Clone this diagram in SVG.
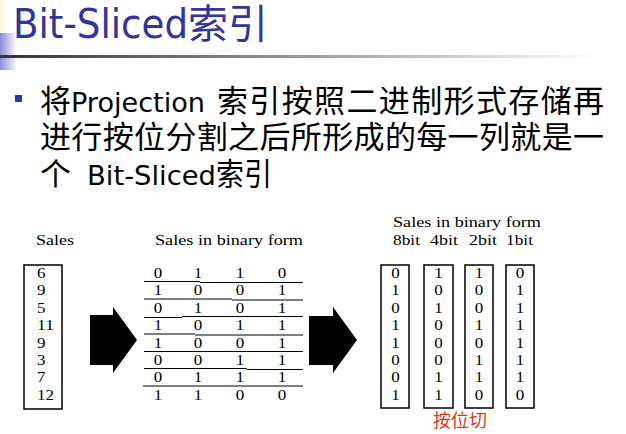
<svg xmlns="http://www.w3.org/2000/svg" width="626" height="434" viewBox="0 0 626 434">
<defs>
<linearGradient id="rule" x1="0" y1="0" x2="1" y2="0"><stop offset="0" stop-color="#333"/><stop offset="1" stop-color="#fff"/></linearGradient>
<linearGradient id="blue" x1="0" y1="0" x2="1" y2="0"><stop offset="0" stop-color="#8a8ad8"/><stop offset="1" stop-color="#fff"/></linearGradient>
<linearGradient id="cream" x1="0" y1="0" x2="1" y2="0"><stop offset="0" stop-color="#fbf4cc"/><stop offset="1" stop-color="#fff"/></linearGradient>
</defs>
<style>
.title{font-family:"DejaVu Sans","Liberation Sans",sans-serif;font-size:40px;fill:#333399}
.titlecjk{font-family:"Noto Sans CJK SC",sans-serif;font-size:40px;fill:#333399}
.lat{font-family:"DejaVu Sans","Liberation Sans",sans-serif;font-size:27px;fill:#000}
.cjk{font-family:"Noto Sans CJK SC",sans-serif;font-size:31px;fill:#000}
.t{font-family:"Liberation Serif","Times New Roman",serif;font-size:14px;fill:#000}
.d{font-family:"Liberation Serif","Times New Roman",serif;font-size:14px;fill:#000;text-anchor:middle}
.n{font-family:"Liberation Serif","Times New Roman",serif;font-size:14px;fill:#000}
.box{fill:none;stroke:#000;stroke-width:1.5}
.ul{stroke:#000;stroke-width:1.2;fill:none}
.arrow{fill:#000}
.red{font-family:"Noto Sans CJK SC",sans-serif;font-size:18px;fill:#ee3311}
</style>
<rect width="626" height="434" fill="#fff"/>
<g id="decor">
<rect x="0" y="0" width="6" height="33" fill="url(#cream)"/>
<rect x="0" y="33" width="17" height="37" fill="url(#blue)"/>
<rect x="0" y="55" width="600" height="3" fill="url(#rule)"/>
</g>
<g id="title">
<text class="title" x="13" y="38" textLength="175" lengthAdjust="spacingAndGlyphs">Bit-Sliced</text>
<text class="titlecjk" x="188" y="38">索引</text>
</g>
<g id="bullet-text">
<rect x="15" y="95" width="7" height="7" fill="#3333aa"/>
<text class="cjk" x="40" y="112">将</text>
<text class="lat" x="71" y="112" textLength="134" lengthAdjust="spacingAndGlyphs">Projection</text>
<text class="cjk" x="217" y="112" textLength="387" lengthAdjust="spacing">索引按照二进制形式存储再</text>
<text class="cjk" x="40" y="148" textLength="564" lengthAdjust="spacing">进行按位分割之后所形成的每一列就是一</text>
<text class="cjk" x="40" y="185">个</text>
<text class="lat" x="87" y="185" textLength="129" lengthAdjust="spacingAndGlyphs">Bit-Sliced</text>
<text class="cjk" x="216" y="185" textLength="56" lengthAdjust="spacingAndGlyphs">索引</text>
</g>
<g id="sales">
<text class="t" x="36" y="245" textLength="38" lengthAdjust="spacingAndGlyphs">Sales</text>
<rect class="box" x="24" y="265" width="38" height="144"/>
<text class="n" x="37" y="278" textLength="8.5" lengthAdjust="spacingAndGlyphs">6</text>
<text class="n" x="37" y="295.4" textLength="8.5" lengthAdjust="spacingAndGlyphs">9</text>
<text class="n" x="37" y="312.8" textLength="8.5" lengthAdjust="spacingAndGlyphs">5</text>
<text class="n" x="37" y="330.2" textLength="17" lengthAdjust="spacingAndGlyphs">11</text>
<text class="n" x="37" y="347.6" textLength="8.5" lengthAdjust="spacingAndGlyphs">9</text>
<text class="n" x="37" y="365" textLength="8.5" lengthAdjust="spacingAndGlyphs">3</text>
<text class="n" x="37" y="382.4" textLength="8.5" lengthAdjust="spacingAndGlyphs">7</text>
<text class="n" x="37" y="399.8" textLength="17" lengthAdjust="spacingAndGlyphs">12</text>
</g>
<g id="binary">
<text class="t" x="155" y="244.5" textLength="148" lengthAdjust="spacingAndGlyphs">Sales in binary form</text>
<g>
<text class="d" x="158" y="278" textLength="8.5" lengthAdjust="spacingAndGlyphs">0</text><text class="d" x="198" y="278" textLength="8.5" lengthAdjust="spacingAndGlyphs">1</text><text class="d" x="240" y="278" textLength="8.5" lengthAdjust="spacingAndGlyphs">1</text><text class="d" x="282" y="278" textLength="8.5" lengthAdjust="spacingAndGlyphs">0</text>
<text class="d" x="158" y="295.4" textLength="8.5" lengthAdjust="spacingAndGlyphs">1</text><text class="d" x="198" y="295.4" textLength="8.5" lengthAdjust="spacingAndGlyphs">0</text><text class="d" x="240" y="295.4" textLength="8.5" lengthAdjust="spacingAndGlyphs">0</text><text class="d" x="282" y="295.4" textLength="8.5" lengthAdjust="spacingAndGlyphs">1</text>
<text class="d" x="158" y="312.8" textLength="8.5" lengthAdjust="spacingAndGlyphs">0</text><text class="d" x="198" y="312.8" textLength="8.5" lengthAdjust="spacingAndGlyphs">1</text><text class="d" x="240" y="312.8" textLength="8.5" lengthAdjust="spacingAndGlyphs">0</text><text class="d" x="282" y="312.8" textLength="8.5" lengthAdjust="spacingAndGlyphs">1</text>
<text class="d" x="158" y="330.2" textLength="8.5" lengthAdjust="spacingAndGlyphs">1</text><text class="d" x="198" y="330.2" textLength="8.5" lengthAdjust="spacingAndGlyphs">0</text><text class="d" x="240" y="330.2" textLength="8.5" lengthAdjust="spacingAndGlyphs">1</text><text class="d" x="282" y="330.2" textLength="8.5" lengthAdjust="spacingAndGlyphs">1</text>
<text class="d" x="158" y="347.6" textLength="8.5" lengthAdjust="spacingAndGlyphs">1</text><text class="d" x="198" y="347.6" textLength="8.5" lengthAdjust="spacingAndGlyphs">0</text><text class="d" x="240" y="347.6" textLength="8.5" lengthAdjust="spacingAndGlyphs">0</text><text class="d" x="282" y="347.6" textLength="8.5" lengthAdjust="spacingAndGlyphs">1</text>
<text class="d" x="158" y="365" textLength="8.5" lengthAdjust="spacingAndGlyphs">0</text><text class="d" x="198" y="365" textLength="8.5" lengthAdjust="spacingAndGlyphs">0</text><text class="d" x="240" y="365" textLength="8.5" lengthAdjust="spacingAndGlyphs">1</text><text class="d" x="282" y="365" textLength="8.5" lengthAdjust="spacingAndGlyphs">1</text>
<text class="d" x="158" y="382.4" textLength="8.5" lengthAdjust="spacingAndGlyphs">0</text><text class="d" x="198" y="382.4" textLength="8.5" lengthAdjust="spacingAndGlyphs">1</text><text class="d" x="240" y="382.4" textLength="8.5" lengthAdjust="spacingAndGlyphs">1</text><text class="d" x="282" y="382.4" textLength="8.5" lengthAdjust="spacingAndGlyphs">1</text>
<text class="d" x="158" y="399.8" textLength="8.5" lengthAdjust="spacingAndGlyphs">1</text><text class="d" x="198" y="399.8" textLength="8.5" lengthAdjust="spacingAndGlyphs">1</text><text class="d" x="240" y="399.8" textLength="8.5" lengthAdjust="spacingAndGlyphs">0</text><text class="d" x="282" y="399.8" textLength="8.5" lengthAdjust="spacingAndGlyphs">0</text>
</g>
<path class="ul" d="M144 281.5H200M200 282.5H303"/>
<path class="ul" d="M144 299H232M232 300H303"/>
<path class="ul" d="M144 317.5H182M182 316.5H303"/>
<path class="ul" d="M144 334H195M195 335H303"/>
<path class="ul" d="M144 351.5H303"/>
<path class="ul" d="M144 368.5H247M247 369.5H303"/>
<path class="ul" d="M143 386H303"/>
</g>
<g id="sliced">
<text class="t" x="393" y="227" textLength="148" lengthAdjust="spacingAndGlyphs">Sales in binary form</text>
<text class="t" x="393" y="245" textLength="27" lengthAdjust="spacingAndGlyphs">8bit</text>
<text class="t" x="430" y="245" textLength="28" lengthAdjust="spacingAndGlyphs">4bit</text>
<text class="t" x="469" y="245" textLength="28" lengthAdjust="spacingAndGlyphs">2bit</text>
<text class="t" x="506" y="245" textLength="27" lengthAdjust="spacingAndGlyphs">1bit</text>
<g id="col8">
<rect class="box" x="381" y="265" width="28" height="143"/>
<text class="d" x="395.5" y="278" textLength="8.5" lengthAdjust="spacingAndGlyphs">0</text>
<text class="d" x="395.5" y="295.4" textLength="8.5" lengthAdjust="spacingAndGlyphs">1</text>
<text class="d" x="395.5" y="312.8" textLength="8.5" lengthAdjust="spacingAndGlyphs">0</text>
<text class="d" x="395.5" y="330.2" textLength="8.5" lengthAdjust="spacingAndGlyphs">1</text>
<text class="d" x="395.5" y="347.6" textLength="8.5" lengthAdjust="spacingAndGlyphs">1</text>
<text class="d" x="395.5" y="365" textLength="8.5" lengthAdjust="spacingAndGlyphs">0</text>
<text class="d" x="395.5" y="382.4" textLength="8.5" lengthAdjust="spacingAndGlyphs">0</text>
<text class="d" x="395.5" y="399.8" textLength="8.5" lengthAdjust="spacingAndGlyphs">1</text>
</g>
<g id="col4">
<rect class="box" x="424" y="265" width="29" height="143"/>
<text class="d" x="438.5" y="278" textLength="8.5" lengthAdjust="spacingAndGlyphs">1</text>
<text class="d" x="438.5" y="295.4" textLength="8.5" lengthAdjust="spacingAndGlyphs">0</text>
<text class="d" x="438.5" y="312.8" textLength="8.5" lengthAdjust="spacingAndGlyphs">1</text>
<text class="d" x="438.5" y="330.2" textLength="8.5" lengthAdjust="spacingAndGlyphs">0</text>
<text class="d" x="438.5" y="347.6" textLength="8.5" lengthAdjust="spacingAndGlyphs">0</text>
<text class="d" x="438.5" y="365" textLength="8.5" lengthAdjust="spacingAndGlyphs">0</text>
<text class="d" x="438.5" y="382.4" textLength="8.5" lengthAdjust="spacingAndGlyphs">1</text>
<text class="d" x="438.5" y="399.8" textLength="8.5" lengthAdjust="spacingAndGlyphs">1</text>
</g>
<g id="col2">
<rect class="box" x="465" y="265" width="28" height="143"/>
<text class="d" x="479" y="278" textLength="8.5" lengthAdjust="spacingAndGlyphs">1</text>
<text class="d" x="479" y="295.4" textLength="8.5" lengthAdjust="spacingAndGlyphs">0</text>
<text class="d" x="479" y="312.8" textLength="8.5" lengthAdjust="spacingAndGlyphs">0</text>
<text class="d" x="479" y="330.2" textLength="8.5" lengthAdjust="spacingAndGlyphs">1</text>
<text class="d" x="479" y="347.6" textLength="8.5" lengthAdjust="spacingAndGlyphs">0</text>
<text class="d" x="479" y="365" textLength="8.5" lengthAdjust="spacingAndGlyphs">1</text>
<text class="d" x="479" y="382.4" textLength="8.5" lengthAdjust="spacingAndGlyphs">1</text>
<text class="d" x="479" y="399.8" textLength="8.5" lengthAdjust="spacingAndGlyphs">0</text>
</g>
<g id="col1">
<rect class="box" x="506" y="265" width="28" height="143"/>
<text class="d" x="520" y="278" textLength="8.5" lengthAdjust="spacingAndGlyphs">0</text>
<text class="d" x="520" y="295.4" textLength="8.5" lengthAdjust="spacingAndGlyphs">1</text>
<text class="d" x="520" y="312.8" textLength="8.5" lengthAdjust="spacingAndGlyphs">1</text>
<text class="d" x="520" y="330.2" textLength="8.5" lengthAdjust="spacingAndGlyphs">1</text>
<text class="d" x="520" y="347.6" textLength="8.5" lengthAdjust="spacingAndGlyphs">1</text>
<text class="d" x="520" y="365" textLength="8.5" lengthAdjust="spacingAndGlyphs">1</text>
<text class="d" x="520" y="382.4" textLength="8.5" lengthAdjust="spacingAndGlyphs">1</text>
<text class="d" x="520" y="399.8" textLength="8.5" lengthAdjust="spacingAndGlyphs">0</text>
</g>
<text class="red" x="433" y="427" textLength="54" lengthAdjust="spacingAndGlyphs">按位切</text>
</g>
<g id="connectors">
<polygon class="arrow" points="90,315 113,315 113,307 137,340 113,373 113,365 90,365"/>
<polygon class="arrow" points="309,316 333,316 333,307 357,340 333,373 333,365 309,365"/>
</g>
</svg>
